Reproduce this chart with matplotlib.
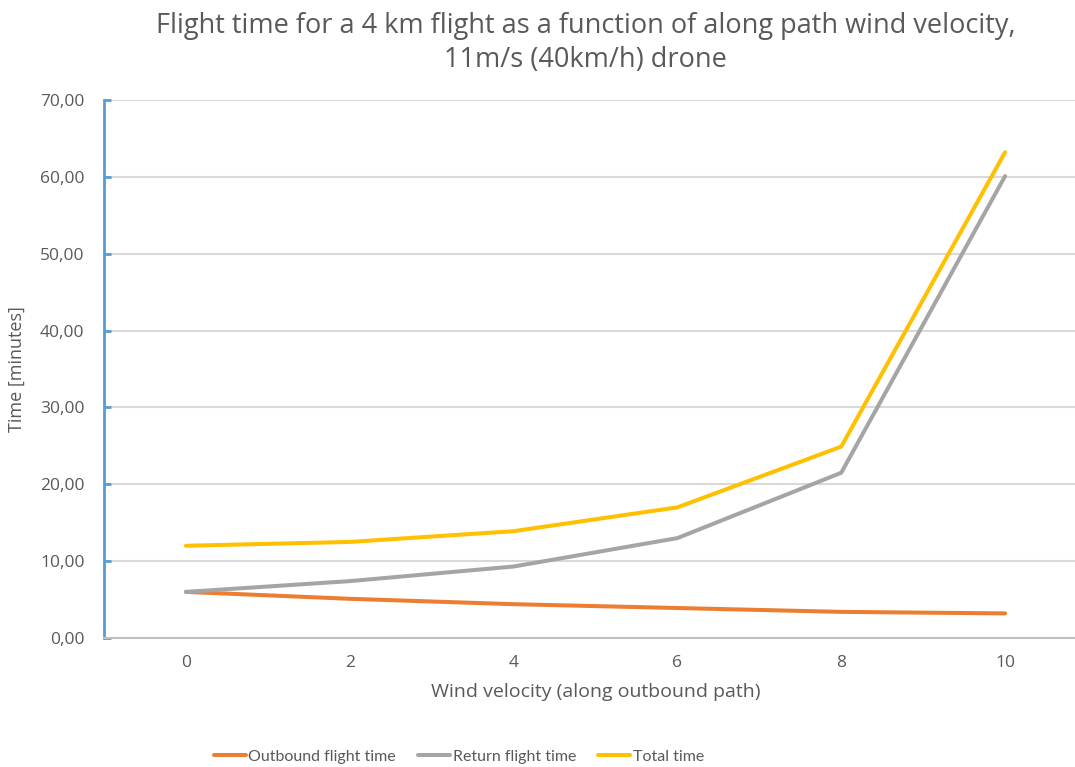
import matplotlib.pyplot as plt
from matplotlib.ticker import FuncFormatter

# Data
wind = [0, 2, 4, 6, 8, 10]
outbound = [6.0, 5.1, 4.4, 3.9, 3.4, 3.2]
returnTime = [6.0, 7.4, 9.3, 13.0, 21.5, 60.1]
total = [12.0, 12.5, 13.9, 17.0, 24.9, 63.2]

plt.rcParams['font.family'] = ['Open Sans', 'DejaVu Sans']
textColor = '#595959'

fig = plt.figure(figsize=(10.75, 7.67), dpi=100)
ax = fig.add_axes([104 / 1075, 1 - 638 / 767, (1087 - 104) / 1075, (638 - 100) / 767])

ax.plot(wind, outbound, c='#ED7D31', lw=2.9, solid_capstyle='round', label='Outbound flight time')
ax.plot(wind, returnTime, c='#A5A5A5', lw=2.9, solid_capstyle='round', label='Return flight time')
ax.plot(wind, total, c='#FFC000', lw=2.9, solid_capstyle='round', label='Total time')

ax.set_xlim(-1, 11)
ax.set_ylim(0, 70)
ax.set_xticks(wind)
ax.set_yticks(range(0, 71, 10))
ax.yaxis.set_major_formatter(FuncFormatter(lambda v, p: f"{v:.2f}".replace('.', ',')))
ax.grid(axis='y', color='#D9D9D9', lw=1.5)
ax.set_axisbelow(True)

for s in ['top', 'right']:
    ax.spines[s].set_visible(False)
ax.spines['left'].set_color('#5B9BD5')
ax.spines['left'].set_linewidth(2)
ax.spines['bottom'].set_color('#BFBFBF')
ax.spines['bottom'].set_linewidth(1.5)
ax.tick_params(axis='y', direction='in', length=5, width=2, color='#5B9BD5', labelsize=12.5, labelcolor=textColor, pad=14)
ax.tick_params(axis='x', length=0, labelsize=12.5, labelcolor=textColor, pad=12)

ax.set_xlabel('Wind velocity (along outbound path)', fontsize=14, color=textColor, labelpad=9)
ax.set_ylabel('Time [minutes]', fontsize=13, color=textColor, labelpad=10)

fig.text(0.545, 0.985, 'Flight time for a 4 km flight as a function of along path wind velocity,\n11m/s (40km/h) drone',
         ha='center', va='top', fontsize=19.5, color=textColor, linespacing=1.3)

fig.legend(loc='center', bbox_to_anchor=(0.427, 1 - 757 / 767), ncol=3, frameon=False,
           prop={'family': ['Lato', 'DejaVu Sans'], 'size': 11.5},
           labelcolor=textColor, handlelength=2.0, handletextpad=0.15, columnspacing=1.4)

fig.savefig('out.png', dpi=100)
